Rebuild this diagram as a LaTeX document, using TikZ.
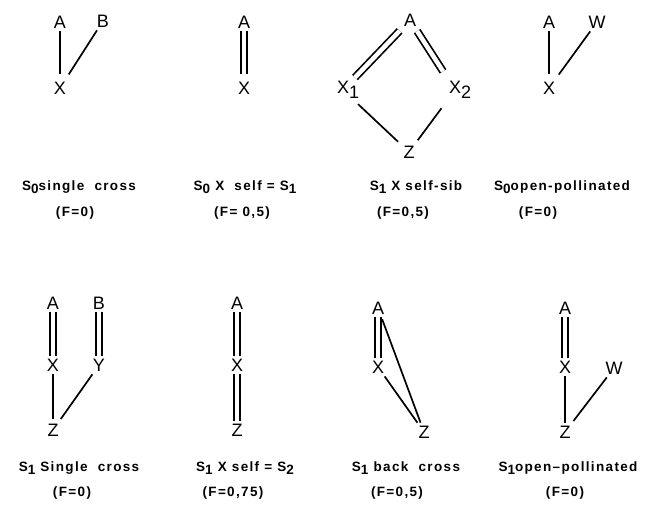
\documentclass[tikz,border=0pt]{standalone}
\usepackage{fontspec}
\setmainfont{Liberation Sans}
\newfontfamily\labfont[LetterSpace=10]{Liberation Sans Bold}
\newcommand{\lsub}[1]{\raisebox{-0.5ex}{#1}}
\newcommand{\nsub}[1]{\rlap{\raisebox{-5pt}{#1}}}
\begin{document}
\begin{tikzpicture}[x=1pt,y=-1pt,
  lt/.style={font=\fontsize{18}{18}\selectfont, inner sep=3pt},
  captxt/.style={font=\labfont\fontsize{13.5}{15}\selectfont, inner sep=0pt},
  ln/.style={line width=1.7pt},
  dbl/.style={double, double distance=4.5pt, line width=1.7pt}]
\useasboundingbox (0,0) rectangle (653,506);
% Panel 1
\node[lt] (a1) at (60,22) {A};
\node[lt] (b1) at (103,21) {B};
\node[lt] (x1) at (60,88) {X};
\draw[ln, shorten >=5pt] (a1) -- (x1);
\draw[ln, shorten <=5pt] (x1) -- (b1);
\node[captxt] (c1) at (79,187) {S\lsub{0}single\ \ cross};
\node[captxt] (f1) at (75,213) {(F=0)};
% Panel 2
\node[lt] (a2) at (244,22) {A};
\node[lt] (x2) at (244,88) {X};
\draw[dbl, shorten >=5pt] (a2) -- (x2);
\node[captxt] (c2) at (245,187) {S\lsub{0} X\ \ self = S\lsub{1}};
\node[captxt] (f2) at (242,213) {(F= 0,5)};
% Panel 3
\node[lt] (a3) at (410,20) {A};
\node[lt] (x31) at (343,90) {X\nsub{1}};
\node[lt] (x32) at (455,90) {X\nsub{2}};
\node[lt] (z3) at (409,152) {Z};
\draw[dbl, shorten <=2pt, shorten >=4pt] (a3) -- (x31);
\draw[dbl, shorten <=2pt, shorten >=8pt] (a3) -- (x32);
\draw[ln, shorten <=8pt, shorten >=3pt] (x31) -- (z3);
\draw[ln, shorten <=8pt, shorten >=3pt] (x32) -- (z3);
\node[captxt] (c3) at (416,187) {S\lsub{1} X self-sib};
\node[captxt] (f3) at (403,213) {(F=0,5)};
% Panel 4
\node[lt] (a4) at (549,22) {A};
\node[lt] (w4) at (597,22) {W};
\node[lt] (x4) at (549,88) {X};
\draw[ln, shorten >=5pt] (a4) -- (x4);
\draw[ln, shorten <=5pt] (x4) -- (w4);
\node[captxt] (c4) at (562,187) {S\lsub{0}open-pollinated};
\node[captxt] (f4) at (538,213) {(F=0)};
% Panel 5
\node[lt] (a5) at (53,303) {A};
\node[lt] (b5) at (99,303) {B};
\node[lt] (x5) at (53,365) {X};
\node[lt] (y5) at (99,365) {Y};
\node[lt] (z5) at (53,430) {Z};
\draw[dbl] (a5) -- (x5);
\draw[dbl] (b5) -- (y5);
\draw[ln, shorten >=2pt] (x5) -- (z5);
\draw[ln, shorten <=2pt] (z5) -- (y5);
\node[captxt] (c5) at (79,468) {S\lsub{1} Single\ \ cross};
\node[captxt] (f5) at (72,493) {(F=0)};
% Panel 6
\node[lt] (a6) at (237,303) {A};
\node[lt] (x6) at (237,365) {X};
\node[lt] (z6) at (237,430) {Z};
\draw[dbl] (a6) -- (x6);
\draw[dbl] (x6) -- (z6);
\node[captxt] (c6) at (245,468) {S\lsub{1} X self = S\lsub{2}};
\node[captxt] (f6) at (233,493) {(F=0,75)};
% Panel 7
\node[lt] (a7) at (378,308) {A};
\node[lt] (x7) at (378,367) {X};
\node[lt] (z7) at (424,432) {Z};
\draw[dbl] (a7) -- (x7);
\draw[ln, shorten <=2pt] (a7) -- (z7);
\draw[ln] (x7) -- (z7);
\node[captxt] (c7) at (406,468) {S\lsub{1} back\ \ cross};
\node[captxt] (f7) at (397,493) {(F=0,5)};
% Panel 8
\node[lt] (a8) at (565,308) {A};
\node[lt] (x8) at (565,367) {X};
\node[lt] (w8) at (614,368) {W};
\node[lt] (z8) at (565,432) {Z};
\draw[dbl] (a8) -- (x8);
\draw[ln] (x8) -- (z8);
\draw[ln, shorten >=2pt] (w8) -- (z8);
\node[captxt] (c8) at (568,468) {S\lsub{1}open–pollinated};
\node[captxt] (f8) at (565,493) {(F=0)};
\end{tikzpicture}
\end{document}
